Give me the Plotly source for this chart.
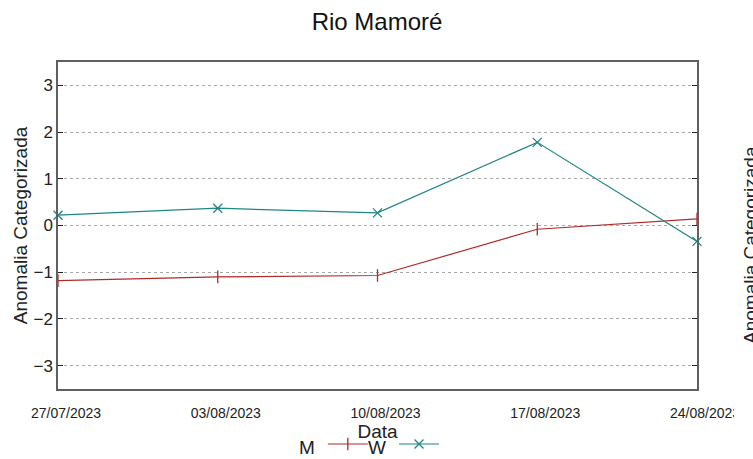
import plotly.graph_objects as go

dates = ["2023-07-27", "2023-08-03", "2023-08-10", "2023-08-17", "2023-08-24"]
m_values = [-1.18, -1.10, -1.07, -0.08, 0.14]
w_values = [0.22, 0.37, 0.27, 1.78, -0.34]
y_ticks = [-3, -2, -1, 0, 1, 2, 3]

W, H = 753, 459
L, R, T, B = 58, 697, 62, 389
pw, ph = R - L, B - T

def px_x(p):
    return (p - L) / pw

def px_y(p):
    return (B - p) / ph

narrow = "Liberation Sans Narrow, Arial Narrow, Liberation Sans, sans-serif"
regular = "Liberation Sans, Arial, sans-serif"

fig = go.Figure()
fig.add_trace(go.Scatter(
    x=dates, y=m_values, name="M", mode="lines+markers",
    line=dict(color="#b02a2a", width=1.2),
    marker=dict(symbol="line-ns", size=9, line=dict(color="#b02a2a", width=1.3)),
    legend="legend", cliponaxis=False,
))
fig.add_trace(go.Scatter(
    x=dates, y=w_values, name="W", mode="lines+markers",
    line=dict(color="#1f8585", width=1.2),
    marker=dict(symbol="x-thin", size=9, line=dict(color="#1f8585", width=1.3)),
    legend="legend2", cliponaxis=False,
))

axis_line = "#606060"
fig.update_xaxes(
    type="date", range=[dates[0], dates[-1]],
    tickvals=dates, tickformat="%d/%m/%Y",
    showgrid=False, zeroline=False,
    showline=True, mirror=True, linecolor=axis_line, linewidth=1.5,
    ticks="", ticklabelstandoff=10, ticklabelshift=8,
    tickfont=dict(family=narrow, size=14, color="#222"),
    title=dict(text="Data", font=dict(family=narrow, size=19, color="#222"), standoff=0),
)
fig.update_yaxes(
    range=[-3.5, 3.5], tickvals=y_ticks,
    showgrid=True, gridcolor="#a8a8a8", griddash="dot", gridwidth=1,
    zeroline=False,
    showline=True, mirror="allticks", linecolor=axis_line, linewidth=1.5,
    ticks="inside", ticklen=5, tickcolor="#222", tickwidth=1,
    tickfont=dict(family=regular, size=17, color="#222"),
    title=dict(text="Anomalia Categorizada", font=dict(family=regular, size=19, color="#222"), standoff=1),
)

fig.update_layout(
    width=W, height=H,
    margin=dict(l=L, r=W - R, t=T, b=H - B, autoexpand=False),
    paper_bgcolor="white", plot_bgcolor="white",
    title=dict(text="Rio Mamoré", x=px_x(377), xref="paper", y=1 - 22 / H, yref="container",
               xanchor="center", yanchor="middle",
               font=dict(family=regular, size=24, color="#111")),
    legend=dict(orientation="h", x=px_x(297), y=px_y(447), xanchor="left", yanchor="middle",
                title=dict(text="M", side="left", font=dict(family=narrow, size=19, color="#222")),
                font=dict(family=narrow, size=10, color="rgba(0,0,0,0)"),
                bgcolor="rgba(0,0,0,0)", itemwidth=40),
    legend2=dict(orientation="h", x=px_x(366), y=px_y(447), xanchor="left", yanchor="middle",
                 title=dict(text="W", side="left", font=dict(family=narrow, size=19, color="#222")),
                 font=dict(family=narrow, size=10, color="rgba(0,0,0,0)"),
                 bgcolor="rgba(0,0,0,0)", itemwidth=40),
    showlegend=True,
)

# clipped neighbouring panel edge (as in the reference)
fig.add_shape(type="rect", xref="paper", yref="paper",
              x0=px_x(734), x1=px_x(741), y0=px_y(425), y1=px_y(400),
              fillcolor="white", line=dict(width=0), layer="above")
fig.add_annotation(text="Anomalia Categorizada", textangle=-90,
                   xref="paper", yref="paper", x=px_x(750), y=px_y(245),
                   xanchor="center", yanchor="middle", showarrow=False,
                   font=dict(family=regular, size=19, color="#222"))

fig.write_html("out.html", post_script="document.body.style.margin='0';",
               config={"displayModeBar": False})
